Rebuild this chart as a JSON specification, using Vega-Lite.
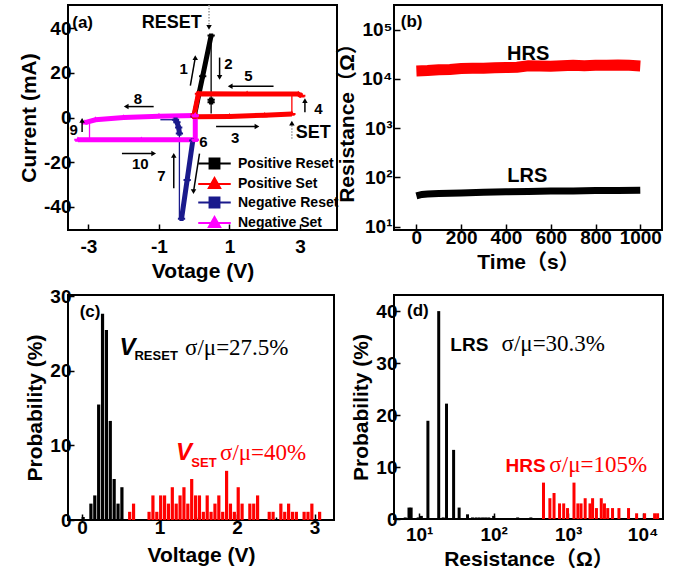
{
 "$schema": "https://vega.github.io/schema/vega-lite/v6.json",
 "background": "white",
 "padding": {"left": 17, "top": 3, "right": 5, "bottom": 3},
 "bounds": "flush",
 "columns": 2,
 "spacing": {"row": 65, "column": 57},
 "resolve": {"scale": {"color": "independent", "stroke": "independent", "shape": "independent", "strokeWidth": "independent"}, "legend": {"color": "independent", "stroke": "independent", "shape": "independent"}},
 "config": {
  "font": "Liberation Sans",
  "view": {"stroke": "black", "strokeWidth": 2},
  "axis": {"domain": false, "grid": false, "labelOverlap": false, "labelFont": "Liberation Sans, DejaVu Sans", "labelFontWeight": "bold", "labelFontSize": 19, "labelColor": "black", "titleFont": "Liberation Sans, Noto Sans CJK SC", "titleFontSize": 21, "titleFontWeight": "bold", "titleColor": "black", "tickColor": "black", "tickWidth": 1.5},
  "axisX": {"labelPadding": 4, "titlePadding": 4},
  "axisY": {"labelPadding": 3, "titlePadding": 4},
  "text": {"font": "Liberation Sans"}
 },
 "datasets": {
  "iv": [
   {"s": "Positive Reset", "seg": "pr1", "w": "thick", "v": 0.0, "i": 0.5, "o": 0},
   {"s": "Positive Reset", "seg": "pr1", "w": "thick", "v": 0.24, "i": 18.5, "o": 1},
   {"s": "Positive Reset", "seg": "pr1", "w": "thick", "v": 0.48, "i": 36.8, "o": 2},
   {"s": "Positive Reset", "seg": "pr2", "w": "thin", "v": 0.48, "i": 36.8, "o": 0},
   {"s": "Positive Reset", "seg": "pr2", "w": "thin", "v": 0.48, "i": 1.8, "o": 1},
   {"s": "Positive Reset", "seg": "pr3", "w": "thick", "v": 0.48, "i": 6.8, "o": 0},
   {"s": "Positive Reset", "seg": "pr3", "w": "thick", "v": 0.48, "i": 8.0, "o": 1},
   {"s": "Positive Set", "seg": "ps1", "w": "thick", "v": 0.02, "i": 0.3, "o": 0},
   {"s": "Positive Set", "seg": "ps1", "w": "thick", "v": 1.0, "i": 0.5, "o": 1},
   {"s": "Positive Set", "seg": "ps1", "w": "thick", "v": 2.0, "i": 1.0, "o": 2},
   {"s": "Positive Set", "seg": "ps1", "w": "thick", "v": 2.77, "i": 1.6, "o": 3},
   {"s": "Positive Set", "seg": "ps2", "w": "thin", "v": 2.77, "i": 1.6, "o": 0},
   {"s": "Positive Set", "seg": "ps2", "w": "thin", "v": 2.77, "i": 10.3, "o": 1},
   {"s": "Positive Set", "seg": "ps3", "w": "thick", "v": 3.05, "i": 9.8, "o": 0},
   {"s": "Positive Set", "seg": "ps3", "w": "thick", "v": 2.95, "i": 10.5, "o": 1},
   {"s": "Positive Set", "seg": "ps3", "w": "thick", "v": 1.5, "i": 10.6, "o": 2},
   {"s": "Positive Set", "seg": "ps3", "w": "thick", "v": 0.12, "i": 10.7, "o": 3},
   {"s": "Positive Set", "seg": "ps3", "w": "thick", "v": 0.0, "i": 1.5, "o": 4},
   {"s": "Negative Reset", "seg": "nr1", "w": "thick", "v": -0.04, "i": -10.3, "o": 0},
   {"s": "Negative Reset", "seg": "nr1", "w": "thick", "v": -0.2, "i": -28.0, "o": 1},
   {"s": "Negative Reset", "seg": "nr1", "w": "thick", "v": -0.36, "i": -45.5, "o": 2},
   {"s": "Negative Reset", "seg": "nr2", "w": "thin", "v": -0.42, "i": -45.5, "o": 0},
   {"s": "Negative Reset", "seg": "nr2", "w": "thin", "v": -0.42, "i": -7.0, "o": 1},
   {"s": "Negative Reset", "seg": "nr3", "w": "thick", "v": -0.42, "i": -7.2, "o": 0},
   {"s": "Negative Reset", "seg": "nr3", "w": "thick", "v": -0.44, "i": -4.5, "o": 1},
   {"s": "Negative Reset", "seg": "nr3", "w": "thick", "v": -0.49, "i": -2.1, "o": 2},
   {"s": "Negative Reset", "seg": "nr3", "w": "thick", "v": -0.53, "i": -1.0, "o": 3},
   {"s": "Negative Reset", "seg": "nr4", "w": "thin", "v": -0.53, "i": -1.0, "o": 0},
   {"s": "Negative Reset", "seg": "nr4", "w": "thin", "v": -0.96, "i": -1.0, "o": 1},
   {"s": "Negative Set", "seg": "ns1", "w": "thick", "v": 0.03, "i": 0.9, "o": 0},
   {"s": "Negative Set", "seg": "ns1", "w": "thick", "v": -1.0, "i": 0.6, "o": 1},
   {"s": "Negative Set", "seg": "ns1", "w": "thick", "v": -2.0, "i": 0.0, "o": 2},
   {"s": "Negative Set", "seg": "ns1", "w": "thick", "v": -2.8, "i": -1.0, "o": 3},
   {"s": "Negative Set", "seg": "ns1", "w": "thick", "v": -3.1, "i": -2.3, "o": 4},
   {"s": "Negative Set", "seg": "ns2", "w": "thin", "v": -2.97, "i": -1.3, "o": 0},
   {"s": "Negative Set", "seg": "ns2", "w": "thin", "v": -2.97, "i": -10.0, "o": 1},
   {"s": "Negative Set", "seg": "ns3", "w": "thick", "v": -3.3, "i": -10.0, "o": 0},
   {"s": "Negative Set", "seg": "ns3", "w": "thick", "v": -1.5, "i": -10.0, "o": 1},
   {"s": "Negative Set", "seg": "ns3", "w": "thick", "v": 0.03, "i": -10.0, "o": 2},
   {"s": "Negative Set", "seg": "ns4", "w": "thick", "v": 0.03, "i": -10.0, "o": 0},
   {"s": "Negative Set", "seg": "ns4", "w": "thick", "v": 0.03, "i": 0.9, "o": 1}
  ],
  "arrows": [
   {"n": "1", "x": -0.11, "y": 14.3, "x2": 0.03, "y2": 26.9, "dir": "up", "kind": "solid"},
   {"n": "2", "x": 0.72, "y": 26.9, "x2": 0.72, "y2": 18.0, "dir": "down", "kind": "solid"},
   {"n": "5", "x": 2.25, "y": 14.0, "x2": 1.02, "y2": 14.0, "dir": "left", "kind": "solid"},
   {"n": "4", "x": 3.14, "y": 2.4, "x2": 3.14, "y2": 7.6, "dir": "up", "kind": "solid"},
   {"n": "3", "x": 0.62, "y": -4.0, "x2": 1.78, "y2": -4.0, "dir": "right", "kind": "solid"},
   {"n": "6", "x": 0.15, "y": -16.2, "x2": -0.02, "y2": -33.3, "dir": "down", "kind": "solid"},
   {"n": "7", "x": -0.58, "y": -31.8, "x2": -0.58, "y2": -17.0, "dir": "up", "kind": "solid"},
   {"n": "8", "x": -1.15, "y": 4.9, "x2": -1.93, "y2": 4.9, "dir": "left", "kind": "solid"},
   {"n": "9", "x": -3.18, "y": -6.5, "x2": -3.18, "y2": -1.3, "dir": "up", "kind": "solid"},
   {"n": "10", "x": -2.05, "y": -16.2, "x2": -1.15, "y2": -16.2, "dir": "right", "kind": "solid"},
   {"n": "RESET", "x": 0.42, "y": 50.5, "x2": 0.42, "y2": 40.5, "dir": "down", "kind": "dotted"},
   {"n": "SET", "x": 2.77, "y": -9.5, "x2": 2.77, "y2": -2.5, "dir": "up", "kind": "dotted"}
  ],
  "aText": [
   {"t": "(a)", "x": -3.46, "y": 40.3, "role": "panel"},
   {"t": "RESET", "x": -1.49, "y": 40.4, "role": "big"},
   {"t": "SET", "x": 2.88, "y": -9.3, "role": "big"},
   {"t": "1", "x": -0.3, "y": 21.7, "role": "num"},
   {"t": "2", "x": 0.97, "y": 24.0, "role": "num"},
   {"t": "3", "x": 1.16, "y": -9.1, "role": "num"},
   {"t": "4", "x": 3.52, "y": 3.9, "role": "num"},
   {"t": "5", "x": 1.54, "y": 18.75, "role": "num"},
   {"t": "6", "x": 0.26, "y": -11.0, "role": "num"},
   {"t": "7", "x": -0.93, "y": -26.3, "role": "num"},
   {"t": "8", "x": -1.6, "y": 8.3, "role": "num"},
   {"t": "9", "x": -3.42, "y": -5.5, "role": "num"},
   {"t": "10", "x": -1.53, "y": -20.7, "role": "num"}
  ],
  "ret": [
   {"state": "HRS", "t": 0, "r": 14500}, {"state": "HRS", "t": 50, "r": 14800}, {"state": "HRS", "t": 100, "r": 15300}, {"state": "HRS", "t": 150, "r": 15500}, {"state": "HRS", "t": 200, "r": 16200}, {"state": "HRS", "t": 250, "r": 16400}, {"state": "HRS", "t": 300, "r": 16500}, {"state": "HRS", "t": 350, "r": 16800}, {"state": "HRS", "t": 400, "r": 17000}, {"state": "HRS", "t": 450, "r": 17200}, {"state": "HRS", "t": 500, "r": 18500}, {"state": "HRS", "t": 550, "r": 18300}, {"state": "HRS", "t": 600, "r": 18000}, {"state": "HRS", "t": 650, "r": 18500}, {"state": "HRS", "t": 700, "r": 18800}, {"state": "HRS", "t": 750, "r": 18500}, {"state": "HRS", "t": 800, "r": 18800}, {"state": "HRS", "t": 850, "r": 19000}, {"state": "HRS", "t": 900, "r": 19200}, {"state": "HRS", "t": 950, "r": 18800}, {"state": "HRS", "t": 1000, "r": 18200},
   {"state": "LRS", "t": 0, "r": 42}, {"state": "LRS", "t": 25, "r": 45}, {"state": "LRS", "t": 50, "r": 46}, {"state": "LRS", "t": 100, "r": 47}, {"state": "LRS", "t": 200, "r": 48}, {"state": "LRS", "t": 300, "r": 50}, {"state": "LRS", "t": 400, "r": 51}, {"state": "LRS", "t": 500, "r": 52}, {"state": "LRS", "t": 600, "r": 53}, {"state": "LRS", "t": 700, "r": 53}, {"state": "LRS", "t": 800, "r": 54}, {"state": "LRS", "t": 900, "r": 54}, {"state": "LRS", "t": 1000, "r": 55}
  ],
  "bText": [
   {"txt": "(b)", "t": -70, "r": 113000, "role": "panel"},
   {"txt": "HRS", "t": 499, "r": 24500, "role": "name"},
   {"txt": "LRS", "t": 495, "r": 81, "role": "name"}
  ],
  "vdist": [
   {"kind": "RESET", "v": 0.015, "p": 0.4}, {"kind": "RESET", "v": 0.115, "p": 2.2}, {"kind": "RESET", "v": 0.165, "p": 3.3}, {"kind": "RESET", "v": 0.215, "p": 15.5}, {"kind": "RESET", "v": 0.265, "p": 27.7}, {"kind": "RESET", "v": 0.315, "p": 25.5}, {"kind": "RESET", "v": 0.365, "p": 13.3}, {"kind": "RESET", "v": 0.415, "p": 5.5}, {"kind": "RESET", "v": 0.465, "p": 2.2}, {"kind": "RESET", "v": 0.515, "p": 4.4},
   {"kind": "SET", "v": 0.615, "p": 1.1}, {"kind": "SET", "v": 0.665, "p": 2.2}, {"kind": "SET", "v": 0.865, "p": 1.1}, {"kind": "SET", "v": 0.915, "p": 3.3}, {"kind": "SET", "v": 0.965, "p": 1.1}, {"kind": "SET", "v": 1.015, "p": 3.3}, {"kind": "SET", "v": 1.065, "p": 3.3}, {"kind": "SET", "v": 1.115, "p": 2.2}, {"kind": "SET", "v": 1.165, "p": 4.4}, {"kind": "SET", "v": 1.215, "p": 2.2}, {"kind": "SET", "v": 1.265, "p": 3.3}, {"kind": "SET", "v": 1.315, "p": 4.4}, {"kind": "SET", "v": 1.365, "p": 2.2}, {"kind": "SET", "v": 1.415, "p": 5.5}, {"kind": "SET", "v": 1.465, "p": 3.3}, {"kind": "SET", "v": 1.515, "p": 3.3}, {"kind": "SET", "v": 1.565, "p": 1.1}, {"kind": "SET", "v": 1.615, "p": 3.3}, {"kind": "SET", "v": 1.665, "p": 1.1}, {"kind": "SET", "v": 1.715, "p": 2.2}, {"kind": "SET", "v": 1.765, "p": 3.3}, {"kind": "SET", "v": 1.815, "p": 1.1}, {"kind": "SET", "v": 1.865, "p": 6.6}, {"kind": "SET", "v": 1.915, "p": 2.2}, {"kind": "SET", "v": 1.965, "p": 1.1}, {"kind": "SET", "v": 2.015, "p": 4.4}, {"kind": "SET", "v": 2.065, "p": 2.2}, {"kind": "SET", "v": 2.165, "p": 2.2}, {"kind": "SET", "v": 2.215, "p": 2.2}, {"kind": "SET", "v": 2.265, "p": 3.3}, {"kind": "SET", "v": 2.415, "p": 1.1}, {"kind": "SET", "v": 2.465, "p": 1.1}, {"kind": "SET", "v": 2.565, "p": 2.2}, {"kind": "SET", "v": 2.615, "p": 1.1}, {"kind": "SET", "v": 2.665, "p": 2.2}, {"kind": "SET", "v": 2.715, "p": 1.1}, {"kind": "SET", "v": 2.765, "p": 1.1}, {"kind": "SET", "v": 2.865, "p": 1.1}, {"kind": "SET", "v": 2.915, "p": 1.1}, {"kind": "SET", "v": 2.965, "p": 2.2}, {"kind": "SET", "v": 3.065, "p": 1.1}
  ],
  "cText": [
   {"txt": "(c)", "v": -0.03, "p": 27.3, "role": "panel", "kind": "RESET"},
   {"txt": "V", "v": 0.483, "p": 22.1, "role": "V", "kind": "RESET"},
   {"txt": "RESET", "v": 0.677, "p": 21.5, "role": "sub", "kind": "RESET"},
   {"txt": "σ/μ=27.5%", "v": 1.329, "p": 22.1, "role": "stat", "kind": "RESET"},
   {"txt": "V", "v": 1.213, "p": 8.0, "role": "V", "kind": "SET"},
   {"txt": "SET", "v": 1.41, "p": 7.1, "role": "sub", "kind": "SET"},
   {"txt": "σ/μ=40%", "v": 1.78, "p": 8.0, "role": "stat", "kind": "SET"}
  ],
  "rdist": [
   {"kind": "LRS", "r": 6.5, "p": 0.3}, {"kind": "LRS", "r": 7.3, "p": 2.2}, {"kind": "LRS", "r": 7.8, "p": 2.2}, {"kind": "LRS", "r": 9.7, "p": 0.3}, {"kind": "LRS", "r": 10.7, "p": 0.6}, {"kind": "LRS", "r": 13.1, "p": 18.9}, {"kind": "LRS", "r": 18.3, "p": 40.0}, {"kind": "LRS", "r": 21.0, "p": 0.3}, {"kind": "LRS", "r": 23.3, "p": 22.2}, {"kind": "LRS", "r": 29.0, "p": 13.3}, {"kind": "LRS", "r": 34.4, "p": 2.2}, {"kind": "LRS", "r": 44.6, "p": 0.9}, {"kind": "LRS", "r": 52, "p": 0.3}, {"kind": "LRS", "r": 58, "p": 0.3}, {"kind": "LRS", "r": 64, "p": 0.3}, {"kind": "LRS", "r": 71, "p": 0.3}, {"kind": "LRS", "r": 78, "p": 0.3}, {"kind": "LRS", "r": 86, "p": 0.3}, {"kind": "LRS", "r": 100, "p": 0.6}, {"kind": "LRS", "r": 210, "p": 0.3}, {"kind": "LRS", "r": 316, "p": 0.3},
   {"kind": "HRS", "r": 467, "p": 7.0}, {"kind": "HRS", "r": 569, "p": 4.0}, {"kind": "HRS", "r": 647, "p": 5.0}, {"kind": "HRS", "r": 767, "p": 3.0}, {"kind": "HRS", "r": 872, "p": 3.0}, {"kind": "HRS", "r": 982, "p": 2.1}, {"kind": "HRS", "r": 1199, "p": 7.0}, {"kind": "HRS", "r": 1352, "p": 3.0}, {"kind": "HRS", "r": 1491, "p": 3.0}, {"kind": "HRS", "r": 1694, "p": 4.0}, {"kind": "HRS", "r": 1966, "p": 3.0}, {"kind": "HRS", "r": 2131, "p": 4.0}, {"kind": "HRS", "r": 2400, "p": 2.1}, {"kind": "HRS", "r": 2786, "p": 4.0}, {"kind": "HRS", "r": 3075, "p": 3.0}, {"kind": "HRS", "r": 3404, "p": 2.1}, {"kind": "HRS", "r": 3948, "p": 2.1}, {"kind": "HRS", "r": 4812, "p": 2.1}, {"kind": "HRS", "r": 6475, "p": 2.1}, {"kind": "HRS", "r": 8311, "p": 1.1}, {"kind": "HRS", "r": 10640, "p": 1.1}, {"kind": "HRS", "r": 14500, "p": 1.1}, {"kind": "HRS", "r": 15900, "p": 1.1}
  ],
  "dText": [
   {"txt": "(d)", "r": 6.86, "p": 39.1, "role": "panel", "kind": "LRS"},
   {"txt": "LRS", "r": 26.2, "p": 32.3, "role": "name", "kind": "LRS"},
   {"txt": "σ/μ=30.3%", "r": 127.6, "p": 32.3, "role": "stat", "kind": "LRS"},
   {"txt": "HRS", "r": 144, "p": 9.0, "role": "name", "kind": "HRS"},
   {"txt": "σ/μ=105%", "r": 560, "p": 9.0, "role": "stat", "kind": "HRS"}
  ]
 },
 "concat": [
    {
     "width": 269, "height": 225,
     "resolve": {"legend": {"color": "independent", "stroke": "independent", "shape": "independent"}},
     "layer": [
      {
       "data": {"name": "iv"},
       "mark": {"type": "line", "strokeCap": "butt"},
       "encoding": {
        "x": {"field": "v", "type": "quantitative", "scale": {"domain": [-3.58, 4.05], "nice": false, "zero": false},
              "axis": {"title": "Votage (V)", "labelOverlap": false, "labelSeparation": -40, "labelFlush": false, "labelBound": false, "labelPadding": 13, "values": [-3,-2,-1,0,1,2,3,4], "labelExpr": "'' + datum.value", "tickSize": -6}},
        "y": {"field": "i", "type": "quantitative", "scale": {"domain": [-50.5, 50.5], "nice": false},
              "axis": {"title": "Current (mA)", "labelOverlap": false, "values": [-40,-30,-20,-10,0,10,20,30,40], "labelExpr": "datum.value % 20 === 0 ? '' + datum.value : ''", "tickSize": {"condition": {"test": "datum.value % 20 !== 0", "value": -3}, "value": -6}}},
        "color": {"field": "s", "type": "nominal", "scale": {"domain": ["Positive Reset", "Positive Set", "Negative Reset", "Negative Set"], "range": ["#000000", "#ff0000", "#1a1a8c", "#ff00ff"]}, "legend": null},
        "detail": {"field": "seg"},
        "order": {"field": "o"},
        "strokeWidth": {"field": "w", "type": "ordinal", "scale": {"domain": ["thick", "thin"], "range": [5, 1.3]}, "legend": null}
       }
      },
      {
       "data": {"name": "iv"},
       "transform": [{"filter": "datum.w === 'thick'"}],
       "mark": {"type": "point", "filled": true, "size": 10, "strokeWidth": 2, "opacity": 1},
       "encoding": {
        "x": {"field": "v", "type": "quantitative"},
        "y": {"field": "i", "type": "quantitative"},
        "color": {"field": "s", "type": "nominal", "scale": {"domain": ["Positive Reset", "Positive Set", "Negative Reset", "Negative Set"], "range": ["#000000", "#ff0000", "#1a1a8c", "#ff00ff"]},
                  "legend": {"title": null, "orient": "none", "legendX": 138, "legendY": 150, "padding": 0, "labelFont": "Liberation Sans", "labelFontSize": 14, "labelFontWeight": "bold", "labelColor": "black", "symbolSize": 200, "symbolStrokeWidth": 2, "labelOffset": 15, "rowPadding": 0.5}},
        "stroke": {"field": "s", "type": "nominal", "scale": {"domain": ["Positive Reset", "Positive Set", "Negative Reset", "Negative Set"], "range": ["#000000", "#ff0000", "#1a1a8c", "#ff00ff"]},
                  "legend": {"title": null, "orient": "none", "legendX": 138, "legendY": 150, "padding": 0, "labelFont": "Liberation Sans", "labelFontSize": 14, "labelFontWeight": "bold", "labelColor": "black", "symbolSize": 200, "symbolStrokeWidth": 2, "labelOffset": 15, "rowPadding": 0.5}},
        "shape": {"field": "s", "type": "nominal", "scale": {"domain": ["Positive Reset", "Positive Set", "Negative Reset", "Negative Set"], "range": ["M-2.3,0H2.3M-0.7,-0.7H0.7V0.7H-0.7Z", "M-2.3,0H2.3M0,-0.85L0.8,0.55H-0.8Z", "M-2.3,0H2.3M-0.7,-0.7H0.7V0.7H-0.7Z", "M-2.3,0H2.3M0,-0.85L0.8,0.55H-0.8Z"]},
                  "legend": {"title": null, "orient": "none", "legendX": 138, "legendY": 150, "padding": 0, "labelFont": "Liberation Sans", "labelFontSize": 14, "labelFontWeight": "bold", "labelColor": "black", "symbolSize": 200, "symbolStrokeWidth": 2, "labelOffset": 15, "rowPadding": 0.5}}
       }
      },
      {
       "data": {"name": "arrows"},
       "transform": [{"filter": "datum.kind === 'solid'"}],
       "mark": {"type": "rule", "color": "black", "strokeWidth": 1.5},
       "encoding": {"x": {"field": "x", "type": "quantitative"}, "y": {"field": "y", "type": "quantitative"}, "x2": {"field": "x2"}, "y2": {"field": "y2"}}
      },
      {
       "data": {"name": "arrows"},
       "transform": [{"filter": "datum.kind === 'dotted'"}],
       "mark": {"type": "rule", "color": "#999999", "strokeWidth": 1.5, "strokeDash": [1.5, 1.5]},
       "encoding": {"x": {"field": "x", "type": "quantitative"}, "y": {"field": "y", "type": "quantitative"}, "x2": {"field": "x2"}, "y2": {"field": "y2"}}
      },
      {
       "data": {"name": "arrows"},
       "transform": [{"filter": "datum.dir === 'up'"}],
       "mark": {"type": "point", "shape": "triangle-up", "filled": true, "color": "black", "size": 30, "opacity": 1},
       "encoding": {"x": {"field": "x2", "type": "quantitative"}, "y": {"field": "y2", "type": "quantitative"}}
      },
      {
       "data": {"name": "arrows"},
       "transform": [{"filter": "datum.dir === 'down'"}],
       "mark": {"type": "point", "shape": "triangle-down", "filled": true, "color": "black", "size": 30, "opacity": 1},
       "encoding": {"x": {"field": "x2", "type": "quantitative"}, "y": {"field": "y2", "type": "quantitative"}}
      },
      {
       "data": {"name": "arrows"},
       "transform": [{"filter": "datum.dir === 'left'"}],
       "mark": {"type": "point", "shape": "triangle-left", "filled": true, "color": "black", "size": 30, "opacity": 1},
       "encoding": {"x": {"field": "x2", "type": "quantitative"}, "y": {"field": "y2", "type": "quantitative"}}
      },
      {
       "data": {"name": "arrows"},
       "transform": [{"filter": "datum.dir === 'right'"}],
       "mark": {"type": "point", "shape": "triangle-right", "filled": true, "color": "black", "size": 30, "opacity": 1},
       "encoding": {"x": {"field": "x2", "type": "quantitative"}, "y": {"field": "y2", "type": "quantitative"}}
      },
      {
       "data": {"name": "aText"},
       "transform": [{"filter": "datum.role === 'num'"}],
       "mark": {"type": "text", "fontSize": 15, "fontWeight": "bold", "color": "black", "align": "center", "baseline": "middle"},
       "encoding": {"x": {"field": "x", "type": "quantitative"}, "y": {"field": "y", "type": "quantitative"}, "text": {"field": "t"}}
      },
      {
       "data": {"name": "aText"},
       "transform": [{"filter": "datum.role === 'big'"}],
       "mark": {"type": "text", "fontSize": 18, "fontWeight": "bold", "color": "black", "align": "left", "baseline": "alphabetic"},
       "encoding": {"x": {"field": "x", "type": "quantitative"}, "y": {"field": "y", "type": "quantitative"}, "text": {"field": "t"}}
      },
      {
       "data": {"name": "aText"},
       "transform": [{"filter": "datum.role === 'panel'"}],
       "mark": {"type": "text", "fontSize": 17, "fontWeight": "bold", "color": "black", "align": "left", "baseline": "alphabetic"},
       "encoding": {"x": {"field": "x", "type": "quantitative"}, "y": {"field": "y", "type": "quantitative"}, "text": {"field": "t"}}
      }
     ]
    },
    {
     "width": 268, "height": 225,
     "layer": [
      {
       "data": {"name": "ret"},
       "mark": {"type": "line", "strokeCap": "butt"},
       "encoding": {
        "x": {"field": "t", "type": "quantitative", "scale": {"domain": [-100, 1097], "nice": false, "zero": false},
              "axis": {"title": "Time（s）", "labelOverlap": false, "values": [0,100,200,300,400,500,600,700,800,900,1000], "labelExpr": "datum.value % 200 === 0 ? '' + datum.value : ''", "tickSize": {"condition": {"test": "datum.value % 200 !== 0", "value": -3}, "value": -6}}},
        "y": {"field": "r", "type": "quantitative", "scale": {"type": "log", "domain": [8.55, 316000], "nice": false},
              "axis": {"title": "Resistance（Ω）", "labelOverlap": false, "labelPadding": 8, "values": [10, 100, 1000, 10000, 100000], "labelExpr": "datum.value == 10 ? '10¹' : datum.value == 100 ? '10²' : datum.value == 1000 ? '10³' : datum.value == 10000 ? '10⁴' : '10⁵'", "tickSize": -6}},
        "color": {"field": "state", "type": "nominal", "scale": {"domain": ["HRS", "LRS"], "range": ["#ff0000", "#000000"]}, "legend": null},
        "strokeWidth": {"field": "state", "type": "nominal", "scale": {"domain": ["HRS", "LRS"], "range": [11, 7]}, "legend": null}
       }
      },
      {
       "data": {"name": "bText"},
       "transform": [{"filter": "datum.role === 'name'"}],
       "mark": {"type": "text", "fontSize": 20, "fontWeight": "bold", "color": "black", "align": "center", "baseline": "alphabetic"},
       "encoding": {"x": {"field": "t", "type": "quantitative"}, "y": {"field": "r", "type": "quantitative"}, "text": {"field": "txt"}}
      },
      {
       "data": {"name": "bText"},
       "transform": [{"filter": "datum.role === 'panel'"}],
       "mark": {"type": "text", "fontSize": 17, "fontWeight": "bold", "color": "black", "align": "left", "baseline": "alphabetic"},
       "encoding": {"x": {"field": "t", "type": "quantitative"}, "y": {"field": "r", "type": "quantitative"}, "text": {"field": "txt"}}
      }
     ]
    },
    {
     "width": 266, "height": 225,
     "layer": [
      {
       "data": {"name": "vdist"},
       "mark": {"type": "bar", "size": 3.2},
       "encoding": {
        "x": {"field": "v", "type": "quantitative", "scale": {"domain": [-0.116, 3.186], "nice": false, "zero": false},
              "axis": {"title": "Voltage (V)", "labelOverlap": false, "values": [0, 0.5, 1, 1.5, 2, 2.5, 3], "labelExpr": "datum.value % 1 === 0 ? '' + datum.value : ''", "tickSize": {"condition": {"test": "datum.value % 1 !== 0", "value": -3}, "value": -6}}},
        "y": {"field": "p", "type": "quantitative", "scale": {"domain": [0, 30.2], "nice": false},
              "axis": {"title": "Probability (%)", "labelOverlap": false, "values": [0, 5, 10, 15, 20, 25, 30], "labelExpr": "datum.value % 10 === 0 ? '' + datum.value : ''", "tickSize": {"condition": {"test": "datum.value % 10 !== 0", "value": -3}, "value": -6}}},
        "color": {"field": "kind", "type": "nominal", "scale": {"domain": ["RESET", "SET"], "range": ["#000000", "#ff0000"]}, "legend": null}
       }
      },
      {
       "data": {"name": "cText"},
       "transform": [{"filter": "datum.role === 'panel'"}],
       "mark": {"type": "text", "fontSize": 17, "fontWeight": "bold", "align": "left", "baseline": "alphabetic"},
       "encoding": {"x": {"field": "v", "type": "quantitative"}, "y": {"field": "p", "type": "quantitative"}, "text": {"field": "txt"}, "color": {"field": "kind", "type": "nominal", "legend": null}}
      },
      {
       "data": {"name": "cText"},
       "transform": [{"filter": "datum.role === 'V'"}],
       "mark": {"type": "text", "fontSize": 24, "fontWeight": "bold", "fontStyle": "italic", "align": "left", "baseline": "alphabetic"},
       "encoding": {"x": {"field": "v", "type": "quantitative"}, "y": {"field": "p", "type": "quantitative"}, "text": {"field": "txt"}, "color": {"field": "kind", "type": "nominal", "legend": null}}
      },
      {
       "data": {"name": "cText"},
       "transform": [{"filter": "datum.role === 'sub'"}],
       "mark": {"type": "text", "fontSize": 13, "fontWeight": "bold", "align": "left", "baseline": "alphabetic"},
       "encoding": {"x": {"field": "v", "type": "quantitative"}, "y": {"field": "p", "type": "quantitative"}, "text": {"field": "txt"}, "color": {"field": "kind", "type": "nominal", "legend": null}}
      },
      {
       "data": {"name": "cText"},
       "transform": [{"filter": "datum.role === 'stat'"}],
       "mark": {"type": "text", "font": "Liberation Serif", "fontSize": 23, "align": "left", "baseline": "alphabetic"},
       "encoding": {"x": {"field": "v", "type": "quantitative"}, "y": {"field": "p", "type": "quantitative"}, "text": {"field": "txt"}, "color": {"field": "kind", "type": "nominal", "legend": null}}
      }
     ]
    },
    {
     "width": 269, "height": 224,
     "layer": [
      {
       "data": {"name": "rdist"},
       "mark": {"type": "bar", "size": 3},
       "encoding": {
        "x": {"field": "r", "type": "quantitative", "scale": {"type": "log", "domain": [5.36, 16100], "nice": false},
              "axis": {"title": "Resistance（Ω）", "labelOverlap": false, "labelPadding": 12, "values": [10, 100, 1000, 10000], "labelExpr": "datum.value == 10 ? '10¹' : datum.value == 100 ? '10²' : datum.value == 1000 ? '10³' : '10⁴'", "tickSize": -6}},
        "y": {"field": "p", "type": "quantitative", "scale": {"domain": [0, 43.1], "nice": false},
              "axis": {"title": "Probability (%)", "labelOverlap": false, "values": [0, 5, 10, 15, 20, 25, 30, 35, 40], "labelExpr": "datum.value % 10 === 0 ? '' + datum.value : ''", "tickSize": {"condition": {"test": "datum.value % 10 !== 0", "value": -3}, "value": -6}}},
        "color": {"field": "kind", "type": "nominal", "scale": {"domain": ["LRS", "HRS"], "range": ["#000000", "#ff0000"]}, "legend": null}
       }
      },
      {
       "data": {"name": "dText"},
       "transform": [{"filter": "datum.role === 'panel'"}],
       "mark": {"type": "text", "fontSize": 17, "fontWeight": "bold", "align": "left", "baseline": "alphabetic"},
       "encoding": {"x": {"field": "r", "type": "quantitative"}, "y": {"field": "p", "type": "quantitative"}, "text": {"field": "txt"}, "color": {"field": "kind", "type": "nominal", "legend": null}}
      },
      {
       "data": {"name": "dText"},
       "transform": [{"filter": "datum.role === 'name'"}],
       "mark": {"type": "text", "fontSize": 19, "fontWeight": "bold", "align": "left", "baseline": "alphabetic"},
       "encoding": {"x": {"field": "r", "type": "quantitative"}, "y": {"field": "p", "type": "quantitative"}, "text": {"field": "txt"}, "color": {"field": "kind", "type": "nominal", "legend": null}}
      },
      {
       "data": {"name": "dText"},
       "transform": [{"filter": "datum.role === 'stat'"}],
       "mark": {"type": "text", "font": "Liberation Serif", "fontSize": 23, "align": "left", "baseline": "alphabetic"},
       "encoding": {"x": {"field": "r", "type": "quantitative"}, "y": {"field": "p", "type": "quantitative"}, "text": {"field": "txt"}, "color": {"field": "kind", "type": "nominal", "legend": null}}
      }
     ]
    }
 ]
}
